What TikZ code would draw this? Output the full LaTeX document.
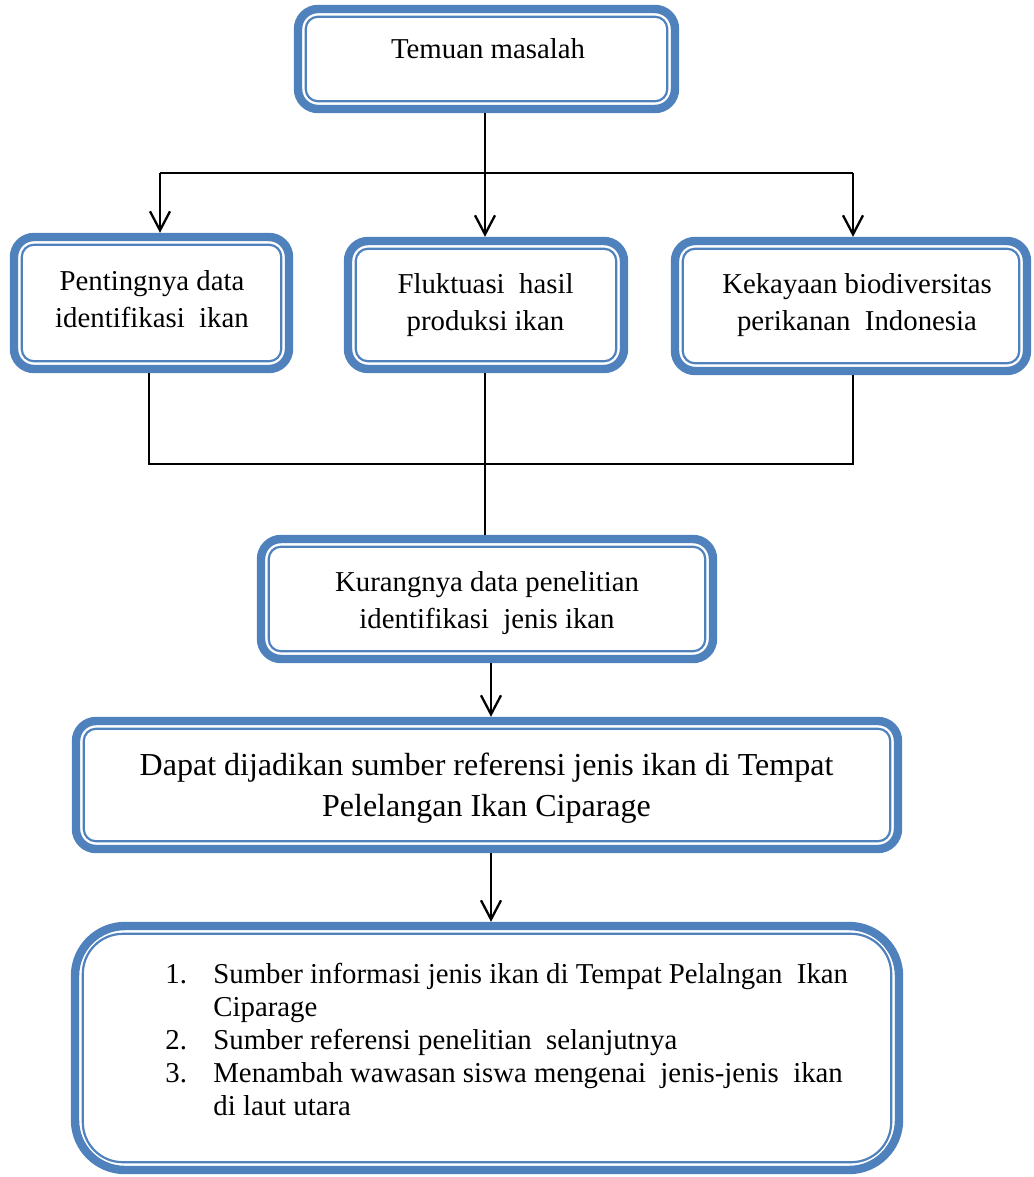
\documentclass[tikz,border=0pt]{standalone}
\usepackage{fontspec}
\setmainfont{Liberation Serif}
\usetikzlibrary{arrows.meta}
\definecolor{bblue}{RGB}{79,129,189}
\tikzset{
  bx/.style={draw=bblue, line width=4.2pt, rounded corners=10pt, fill=white, inner sep=0pt},
  bigbx/.style={bx, rounded corners=25pt},
  inln/.style={draw=bblue, line width=1.1pt, rounded corners=6pt},
  biginln/.style={inln, rounded corners=20pt},
  txt/.style={inner sep=0pt, align=center, font=\fontsize{14.4}{18.5}\selectfont},
  bigtxt/.style={inner sep=0pt, align=center, font=\fontsize{16}{20.5}\selectfont},
  lsttxt/.style={inner sep=0pt, align=left, font=\fontsize{14.4}{16.5}\selectfont},
  ln/.style={draw=black, line width=1.15pt},
  arr/.style={ln, -{Straight Barb[length=9.5pt,width=10pt,line width=1.15pt]}},
}
\begin{document}
\begin{tikzpicture}[x=0.5pt,y=-0.5pt]
\useasboundingbox (0,0) rectangle (1033,1177);

% boxes
\node[bx, minimum width=377*0.5pt, minimum height=100*0.5pt] (b1) at (486.5,59) {};
\node[bx, minimum width=275*0.5pt, minimum height=132*0.5pt] (b2) at (151.5,303) {};
\node[bx, minimum width=276*0.5pt, minimum height=128*0.5pt] (b3) at (486,305) {};
\node[bx, minimum width=352*0.5pt, minimum height=130*0.5pt] (b4) at (851,306) {};
\node[bx, minimum width=452*0.5pt, minimum height=120*0.5pt] (b5) at (487,599) {};
\node[bx, minimum width=822*0.5pt, minimum height=128*0.5pt] (b6) at (487,785) {};
\node[bigbx, minimum width=824*0.5pt, minimum height=244*0.5pt] (b7) at (487,1048) {};

% inner thin lines
\foreach \b in {b1,b2,b3,b4,b5,b6}{
  \draw[inln] ([shift={(12,12)}]\b.north west) rectangle ([shift={(-12,-12)}]\b.south east);
}
\draw[biginln] ([shift={(12,12)}]b7.north west) rectangle ([shift={(-12,-12)}]b7.south east);

% texts
\node[txt] (t1) at (488,51.6) {\strut Temuan masalah};
\node[txt] (t2) at (152,301.6) {\strut Pentingnya data\\\strut identifikasi\ \ ikan};
\node[txt] (t3) at (485.5,304.1) {\strut Fluktuasi\ \ hasil\\\strut produksi ikan};
\node[txt] (t4) at (857,304.1) {\strut Kekayaan biodiversitas\\\strut perikanan\ \ Indonesia};
\node[txt] (t5) at (487,602.1) {\strut Kurangnya data penelitian\\\strut identifikasi\ \ jenis ikan};
\node[bigtxt] (t6) at (486.5,787.3) {\strut Dapat dijadikan sumber referensi jenis ikan di Tempat\\\strut Pelelangan Ikan Ciparage};
\node[lsttxt, anchor=west] (t7) at (165,1042.4) {%
\strut\makebox[24pt][l]{1.}Sumber informasi jenis ikan di Tempat Pelalngan\ \ Ikan\\
\strut\hspace*{24pt}Ciparage\\
\strut\makebox[24pt][l]{2.}Sumber referensi penelitian\ \ selanjutnya\\
\strut\makebox[24pt][l]{3.}Menambah wawasan siswa mengenai\ \ jenis-jenis\ \ ikan\\
\strut\hspace*{24pt}di laut utara};

% connectors
\coordinate (hL) at (160,173);
\coordinate (hM) at (485,173);
\coordinate (hR) at (853,173);
\draw[ln] (hM |- b1.south) -- (hM);
\draw[ln] (hL) -- (hR);
\draw[arr] (hL) -- (hL |- b2.north);
\draw[arr] (hM) -- (hM |- b3.north);
\draw[arr] (hR) -- (hR |- b4.north);

\coordinate (gL) at (149,464);
\coordinate (gM) at (485,464);
\coordinate (gR) at (853,464);
\draw[ln] (gL |- b2.south) -- (gL) -- (gR) -- (gR |- b4.south);
\draw[ln] (gM |- b3.south) -- (gM |- b5.north);

\coordinate (aX) at (491,0);
\draw[arr] (aX |- b5.south) -- (aX |- b6.north);
\draw[arr] (aX |- b6.south) -- (aX |- b7.north);
\end{tikzpicture}
\end{document}
